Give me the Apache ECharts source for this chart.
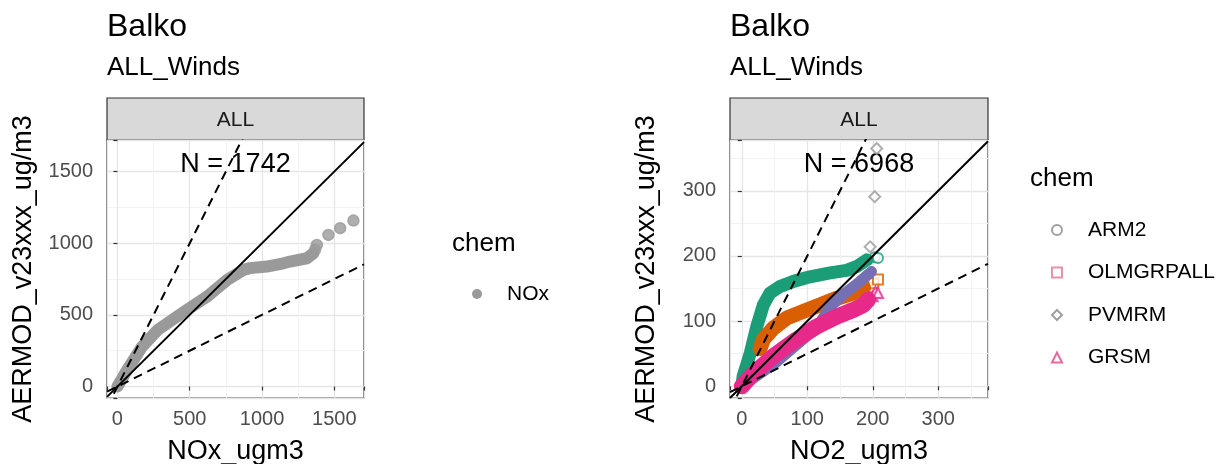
<!DOCTYPE html>
<html>
<head>
<meta charset="utf-8">
<script src="https://cdn.jsdelivr.net/npm/echarts@6/dist/echarts.min.js"></script>
<style>
  html, body { margin: 0; padding: 0; background: #fff; }
  #chart { width: 1222px; height: 464px; }
</style>
</head>
<body>
<div id="chart"></div>
<script>
// left panel: NOx quantiles (obs vs model)
const noxObs = [0, 67, 171, 279, 447, 620, 759, 871, 917, 1033, 1148, 1194, 1310, 1355];
const noxMod = [0, 116, 279, 395, 512, 628, 744, 814, 826, 837, 860, 872, 895, 930];
const noxTopObs = [1367, 1379, 1459, 1540, 1632];
const noxTopMod = [955, 988, 1058, 1105, 1158];

// right panel: NO2 quantiles for each chemistry option
const chemNames = ['ARM2', 'OLMGRPALL', 'PVMRM', 'GRSM'];
const arm2Obs = [0, 2, 13, 23, 33, 43, 58, 79, 104, 135, 160, 176, 191];
const arm2Mod = [0, 15, 51, 92, 125, 143, 153, 161, 168, 174, 178, 184, 194];
const arm2TopObs = [203, 208];
const arm2TopMod = [198, 197];
const olmObs = [28, 33, 48, 69, 94, 120, 145, 170, 186];
const olmMod = [58, 72, 89, 105, 115, 125, 135, 143, 151];
const olmTopObs = [198, 201, 208];
const olmTopMod = [152, 158, 164];
const pvmObs = [0, 50, 100, 120, 135, 155, 176, 191, 198];
const pvmMod = [0, 35, 78, 98, 122, 141, 157, 170, 176];
const pvmTopObs = [196, 203, 206];
const pvmTopMod = [214, 291, 365];
const grsObs = [0, 18, 48, 84, 115, 145, 170, 186, 193];
const grsMod = [0, 20, 46, 72, 92, 107, 117, 125, 133];
const grsTopObs = [200, 204, 208];
const grsTopMod = [138, 145, 143];

const leftTicks = [0, 500, 1000, 1500];
const rightTicks = [0, 100, 200, 300];
const refSlopes = [1, 2, 0.5];

const dark2 = ['#1b9e77', '#d95f02', '#7570b3', '#e7298a'];
const shapes = ['emptyCircle', 'emptyRect', 'emptyDiamond', 'emptyTriangle'];
const legendColors = ['#a0a0a0', '#e593a8', '#a0a0a0', '#e56b9f'];

const FONT = '"Liberation Sans", Arial, sans-serif';
const leftLim = { x: [-72, 1705], y: [-80, 1720] };
const rightLim = { x: [-18, 376], y: [-18, 378] };

const zip = (a, b) => a.map((v, i) => [v, b[i]]);

function makeAxis(lim, ticks, grid, name, isY, splits) {
  return {
    type: 'value', gridIndex: grid, min: lim[0], max: lim[1], splitNumber: splits,
    name: name, nameLocation: 'middle', nameGap: isY ? 70 : 40,
    nameTextStyle: { fontFamily: FONT, fontSize: 27, color: '#000' },
    axisLine: { show: false },
    axisTick: { show: true, length: 4, lineStyle: { color: '#333', width: 1.2 } },
    axisLabel: {
      fontFamily: FONT, fontSize: 20, color: '#4d4d4d', margin: isY ? 14 : 11,
      formatter: v => ticks.includes(v) ? String(v) : ''
    },
    splitLine: { show: true, lineStyle: { color: '#e6e6e6', width: 1.3 } },
    minorTick: { show: false, splitNumber: 2 },
    minorSplitLine: { show: true, lineStyle: { color: '#f3f3f3', width: 1 } }
  };
}

function band(name, xi, obs, mod, color, width) {
  return {
    name: name, type: 'line', xAxisIndex: xi, yAxisIndex: xi,
    data: zip(obs, mod), symbol: 'none',
    lineStyle: { color: color, width: width, cap: 'round', join: 'round' },
    itemStyle: { color: color }, silent: true
  };
}

function tops(name, xi, obs, mod, color, shape, size) {
  return {
    name: name, type: 'scatter', xAxisIndex: xi, yAxisIndex: xi,
    data: zip(obs, mod), symbol: shape, symbolSize: size,
    itemStyle: { color: color, borderColor: color, borderWidth: 1.5 }, silent: true
  };
}

function refLines(xi, lim) {
  return refSlopes.map(s => ({
    type: 'line', xAxisIndex: xi, yAxisIndex: xi, symbol: 'none', silent: true,
    data: [[lim.x[0], s * lim.x[0]], [lim.x[1], s * lim.x[1]]],
    lineStyle: { color: '#000', width: 2, type: s === 1 ? 'solid' : [9, 6] },
    z: 5
  }));
}

const series = [
  band('NOx', 0, noxObs, noxMod, '#9a9a9a', 12),
  tops('NOx', 0, noxTopObs, noxTopMod, '#9a9a9a', 'circle', 11),
  ...refLines(0, leftLim),
  band('ARM2', 1, arm2Obs, arm2Mod, dark2[0], 13),
  band('OLMGRPALL', 1, olmObs, olmMod, dark2[1], 15),
  band('PVMRM', 1, pvmObs, pvmMod, dark2[2], 11),
  band('GRSM', 1, grsObs, grsMod, dark2[3], 16),
  tops('ARM2', 1, arm2TopObs, arm2TopMod, dark2[0], shapes[0], 10),
  tops('OLMGRPALL', 1, olmTopObs, olmTopMod, dark2[1], shapes[1], 10),
  tops('PVMRM', 1, pvmTopObs, pvmTopMod, '#9a9a9a', shapes[2], 11),
  tops('GRSM', 1, grsTopObs, grsTopMod, dark2[3], shapes[3], 10),
  ...refLines(1, rightLim)
];

const panels = [
  { left: 107, width: 257, n: 'N = 1742' },
  { left: 730, width: 258, n: 'N = 6968' }
];

const graphic = [];
panels.forEach(p => {
  graphic.push(
    { type: 'text', left: p.left, top: 11, style: { text: 'Balko', font: '32px ' + FONT, fill: '#000' } },
    { type: 'text', left: p.left, top: 55, style: { text: 'ALL_Winds', font: '26px ' + FONT, fill: '#000' } },
    { type: 'rect', shape: { x: p.left, y: 98, width: p.width, height: 42 },
      style: { fill: '#d9d9d9', stroke: '#333', lineWidth: 1.2 } },
    { type: 'text', x: p.left + p.width / 2, y: 120,
      style: { text: 'ALL', font: '21px ' + FONT, fill: '#1a1a1a', align: 'center', verticalAlign: 'middle' } },
    { type: 'text', x: p.left + p.width / 2, y: 165, z: 1,
      style: { text: p.n, font: '27px ' + FONT, fill: '#000', align: 'center', verticalAlign: 'middle' } }
  );
});
graphic.push(
  { type: 'text', x: 452, y: 244, style: { text: 'chem', font: '26px ' + FONT, fill: '#000', verticalAlign: 'middle' } },
  { type: 'text', x: 1030, y: 179, style: { text: 'chem', font: '26px ' + FONT, fill: '#000', verticalAlign: 'middle' } }
);

const gridBase = { top: 140, height: 258, show: true, borderColor: '#333', borderWidth: 1.2,
  backgroundColor: '#fff', outerBoundsMode: 'none', containLabel: false };

const chart = echarts.init(document.getElementById('chart'));
chart.setOption({
  animation: false,
  backgroundColor: '#fff',
  grid: [
    Object.assign({ left: 107, width: 257 }, gridBase),
    Object.assign({ left: 730, width: 258 }, gridBase)
  ],
  xAxis: [
    makeAxis(leftLim.x, leftTicks, 0, 'NOx_ugm3', false, 4),
    makeAxis(rightLim.x, rightTicks, 1, 'NO2_ugm3', false, 5)
  ],
  yAxis: [
    makeAxis(leftLim.y, leftTicks, 0, 'AERMOD_v23xxx_ug/m3', true, 4),
    makeAxis(rightLim.y, rightTicks, 1, 'AERMOD_v23xxx_ug/m3', true, 5)
  ],
  legend: [
    {
      orient: 'vertical', left: 467, top: 277, itemWidth: 10, itemHeight: 10, itemGap: 18,
      selectedMode: false,
      textStyle: { fontFamily: FONT, fontSize: 21, color: '#000', lineHeight: 24, padding: [0, 0, 0, 20] },
      data: [{ name: 'NOx', icon: 'circle', itemStyle: { color: '#9a9a9a' } }]
    },
    {
      orient: 'vertical', left: 1046, top: 213, itemWidth: 10, itemHeight: 10, itemGap: 18.5,
      selectedMode: false,
      textStyle: { fontFamily: FONT, fontSize: 21, color: '#000', lineHeight: 24, padding: [0, 0, 0, 21] },
      data: chemNames.map((n, i) => ({
        name: n, icon: shapes[i],
        itemStyle: { color: legendColors[i], borderColor: legendColors[i], borderWidth: 1.2 }
      }))
    }
  ],
  graphic: graphic,
  series: series
});
</script>
</body>
</html>
